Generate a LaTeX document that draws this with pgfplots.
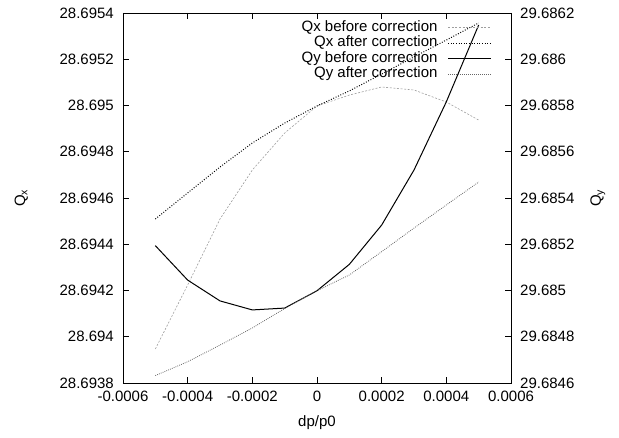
\documentclass[border=0pt]{standalone}
\usepackage{pgfplots}
\pgfplotsset{compat=1.18}
\usepackage{fontspec}
\setmainfont{Liberation Sans}
% Values are stored as offsets from the axis minimum, in units of 1e-4:
%   Qx = 28.6938 + y*1e-4 (left axis),  Qy = 29.6846 + y*1e-4 (right axis)
\pgfplotsset{
  common/.style={
    scale only axis, width=388pt, height=370pt,
    xmin=-0.0006, xmax=0.0006, ymin=0, ymax=16,
    ytick={0,2,4,6,8,10,12,14,16},
    scaled x ticks=false, scaled y ticks=false,
    tick align=inside, major tick length=6pt,
    tick style={black, line width=0.6pt},
    axis line style={line width=0.7pt},
  },
  qxb/.style={black!38, line width=0.6pt, dash pattern=on 2pt off 1.6pt},
  qxa/.style={black, line width=1pt, dash pattern=on 0.9pt off 1.7pt},
  qyb/.style={black, line width=1pt},
  qya/.style={black!60, line width=0.8pt, dash pattern=on 0.8pt off 1.2pt},
}
\begin{document}
\fontsize{15}{18}\selectfont
\begin{tikzpicture}
\begin{axis}[common,
  xtick={-0.0006,-0.0004,-0.0002,0,0.0002,0.0004,0.0006},
  xticklabels={-0.0006,-0.0004,-0.0002,0,0.0002,0.0004,0.0006},
  yticklabels={28.6938,28.694,28.6942,28.6944,28.6946,28.6948,28.695,28.6952,28.6954},
  ytick pos=left, xtick pos=both,
  xticklabel style={yshift=-3pt},
  yticklabel style={xshift=-4pt},
  xlabel={dp/p0}, ylabel={Q\textsubscript{x}},
  xlabel style={at={(axis description cs:0.5,-0.108)}, anchor=center},
  ylabel style={at={(axis description cs:-0.262,0.5)}, anchor=center, rotate=0},
]
\addplot[qxb] coordinates {(-0.0005,1.47) (-0.0004,4.24) (-0.0003,7.09) (-0.0002,9.21) (-0.0001,10.81) (0,11.98) (0.0001,12.45) (0.0002,12.80) (0.0003,12.67) (0.0004,12.15) (0.0005,11.37)};
\addplot[qxa] coordinates {(-0.0005,7.09) (-0.0004,8.22) (-0.0003,9.34) (-0.0002,10.38) (-0.0001,11.24) (0,11.98) (0.0001,12.63) (0.0002,13.36) (0.0003,14.10) (0.0004,14.83) (0.0005,15.57)};
\end{axis}
\begin{axis}[common,
  axis x line=none, axis y line*=right,
  yticklabels={29.6846,29.6848,29.685,29.6852,29.6854,29.6856,29.6858,29.686,29.6862},
  yticklabel style={xshift=4pt},
  ylabel={Q\textsubscript{y}},
  ylabel style={at={(axis description cs:1.224,0.5)}, anchor=center, rotate=0},
  legend plot pos=right,
  legend cell align=right,
  legend image code/.code={\draw[#1] (0pt,0pt) -- (43pt,0pt);},
  legend style={at={(axis description cs:0.951,0.982)}, anchor=north east,
    draw=none, fill=none, inner sep=0pt, row sep=0pt,
    nodes={text height=11pt, text depth=4pt, inner sep=0.3pt},
    /tikz/every odd column/.append style={column sep=10pt}},
]
\addlegendimage{qxb}\addlegendentry{Qx before correction}
\addlegendimage{qxa}\addlegendentry{Qx after correction}
\addplot[qyb] coordinates {(-0.0005,5.94) (-0.0004,4.45) (-0.0003,3.55) (-0.0002,3.16) (-0.0001,3.24) (0,3.99) (0.0001,5.13) (0.0002,6.83) (0.0003,9.21) (0.0004,12.16) (0.0005,15.48)};
\addlegendentry{Qy before correction}
\addplot[qya] coordinates {(-0.0005,0.32) (-0.0004,0.92) (-0.0003,1.64) (-0.0002,2.38) (-0.0001,3.22) (0,3.99) (0.0001,4.67) (0.0002,5.68) (0.0003,6.70) (0.0004,7.70) (0.0005,8.69)};
\addlegendentry{Qy after correction}
\end{axis}
\path ([xshift=-123pt,yshift=-54pt]current axis.south west) rectangle ([xshift=108pt,yshift=13pt]current axis.north east);
\end{tikzpicture}
\end{document}
